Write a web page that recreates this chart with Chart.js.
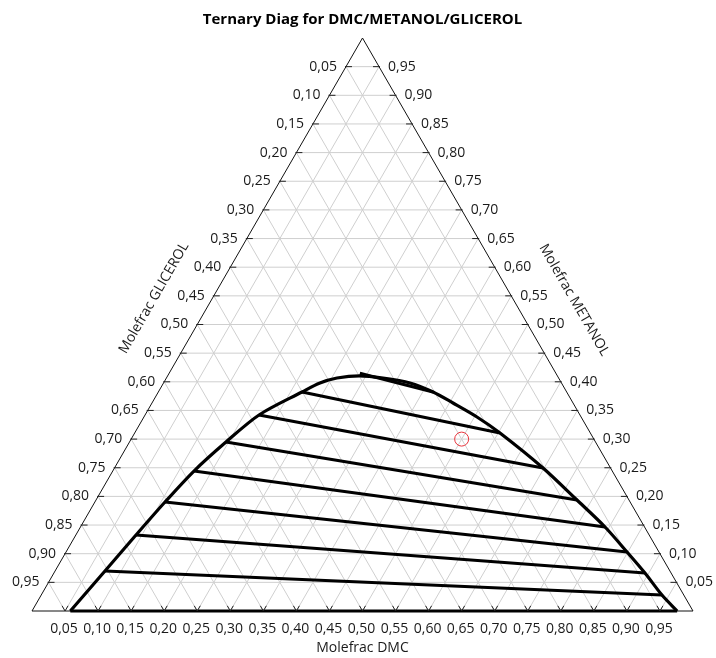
<!DOCTYPE html>
<html>
<head>
<meta charset="utf-8">
<script src="https://cdn.jsdelivr.net/npm/chart.js@4.4.1/dist/chart.umd.min.js"></script>
<style>
  html, body { margin: 0; padding: 0; background: #ffffff; }
  #wrap { width: 716px; height: 658px; position: relative; }
</style>
</head>
<body>
<div id="wrap"><canvas id="chart"></canvas></div>
<script>
// Ternary diagram: apex = METANOL, bottom-left = GLICEROL, bottom-right = DMC.
// Compositions are stored as mole fractions of DMC and METANOL; GLICEROL = 1 - DMC - METANOL.

const TITLE = 'Ternary Diag for DMC/METANOL/GLICEROL';
const AXIS_BOTTOM = 'Molefrac DMC';
const AXIS_LEFT = 'Molefrac GLICEROL';
const AXIS_RIGHT = 'Molefrac METANOL';

const tickFractions = [0.05, 0.10, 0.15, 0.20, 0.25, 0.30, 0.35, 0.40, 0.45, 0.50,
                       0.55, 0.60, 0.65, 0.70, 0.75, 0.80, 0.85, 0.90, 0.95];
const tickLabels = ['0,05', '0,10', '0,15', '0,20', '0,25', '0,30', '0,35', '0,40', '0,45', '0,50',
                    '0,55', '0,60', '0,65', '0,70', '0,75', '0,80', '0,85', '0,90', '0,95'];

// Binodal curve, from the glycerol-rich foot over the top to the DMC-rich foot
const binodalDMC     = [0.058, 0.0755, 0.091, 0.1061, 0.1229, 0.146, 0.1724, 0.2174, 0.2367, 0.2581,
                        0.2903, 0.3277, 0.3729, 0.4156, 0.4554, 0.5039, 0.5527, 0.6483, 0.7276, 0.7936,
                        0.8487, 0.8942, 0.9391, 0.976];
const binodalMetanol = [0.0, 0.0698, 0.1326, 0.1902, 0.2443, 0.2949, 0.3421, 0.3822, 0.3979, 0.4066,
                        0.4105, 0.4066, 0.3979, 0.3822, 0.3630, 0.3386, 0.3106, 0.2496, 0.1937, 0.1466,
                        0.1030, 0.0663, 0.0279, 0.0];

// Tie lines: glycerol-rich end and DMC-rich end
const tieLeftDMC      = [0.058, 0.0755, 0.091, 0.1061, 0.1229, 0.146, 0.1724, 0.2174, 0.2885];
const tieLeftMetanol  = [0.0, 0.0698, 0.1326, 0.1902, 0.2443, 0.2949, 0.3421, 0.3822, 0.4150];
const tieRightDMC     = [0.976, 0.9391, 0.8942, 0.8487, 0.7936, 0.7276, 0.6483, 0.5527, 0.4156];
const tieRightMetanol = [0.0, 0.0279, 0.0663, 0.1030, 0.1466, 0.1937, 0.2496, 0.3106, 0.3822];

// Feed composition
const feedDMC = [0.50];
const feedMetanol = [0.30];

const SQ = Math.sqrt(3) / 2;
const toXY = (d, m) => ({ x: d + m / 2, y: m * SQ });

const FONT = '"Open Sans", "Noto Sans", sans-serif';
const GRID_COLOR = '#cfcfcf';

const datasets = [];

// Light grid every 0.05 in all three directions
tickFractions.forEach(f => {
  const lines = [
    [toXY(0, f), toXY(1 - f, f)],       // constant METANOL
    [toXY(f, 0), toXY(f, 1 - f)],       // constant DMC
    [toXY(1 - f, 0), toXY(0, 1 - f)]    // constant GLICEROL
  ];
  lines.forEach(pts => datasets.push({
    type: 'line', data: pts, borderColor: GRID_COLOR, borderWidth: 1,
    pointRadius: 0, fill: false, order: 10, clip: false
  }));
});

// Triangle outline
datasets.push({
  type: 'line', data: [toXY(0, 0), toXY(1, 0), toXY(0, 1), toXY(0, 0)],
  borderColor: '#111111', borderWidth: 1, pointRadius: 0, fill: false, order: 5, clip: false
});

// Binodal curve
datasets.push({
  type: 'line', data: binodalDMC.map((d, i) => toXY(d, binodalMetanol[i])),
  borderColor: '#000000', borderWidth: 3.2, pointRadius: 0, fill: false,
  tension: 0.3, order: 2, clip: false
});

// Tie lines
tieLeftDMC.forEach((d, i) => datasets.push({
  type: 'line',
  data: [toXY(d, tieLeftMetanol[i]), toXY(tieRightDMC[i], tieRightMetanol[i])],
  borderColor: '#000000', borderWidth: 3.2,
  pointRadius: 0, fill: false, order: 2, clip: false
}));

// Feed point
datasets.push({
  type: 'scatter', data: feedDMC.map((d, i) => toXY(d, feedMetanol[i])),
  pointRadius: 7, pointHoverRadius: 7, pointStyle: 'circle',
  borderColor: '#e8343c', backgroundColor: 'rgba(0,0,0,0)', borderWidth: 1, order: 0, clip: false
});

// Ticks, tick labels, axis titles and chart title
const ternaryText = {
  id: 'ternaryText',
  afterDatasetsDraw(chart) {
    const { ctx } = chart;
    const xs = chart.scales.x, ys = chart.scales.y;
    const px = (d, m) => [xs.getPixelForValue(d + m / 2), ys.getPixelForValue(m * SQ)];
    ctx.save();
    ctx.strokeStyle = '#222222';
    ctx.lineWidth = 1;
    tickFractions.forEach(f => {
      const [bx, by] = px(f, 0);
      ctx.beginPath();
      ctx.moveTo(bx - 3, by - 5.2); ctx.lineTo(bx, by); ctx.lineTo(bx + 3, by - 5.2);
      ctx.stroke();
      const [lx, ly] = px(0, 1 - f);
      ctx.beginPath(); ctx.moveTo(lx - 1, ly); ctx.lineTo(lx + 6, ly); ctx.stroke();
      const [rx, ry] = px(1 - f, f);
      ctx.beginPath(); ctx.moveTo(rx + 1, ry); ctx.lineTo(rx - 6, ry); ctx.stroke();
    });

    ctx.fillStyle = '#1a1a1a';
    ctx.font = '14px ' + FONT;
    ctx.textBaseline = 'middle';
    tickFractions.forEach((f, i) => {
      const lab = tickLabels[i];
      const [bx, by] = px(f, 0);
      ctx.textAlign = 'center';
      ctx.fillText(lab, bx - 1, by + 18);
      const [lx, ly] = px(0, 1 - f);
      ctx.textAlign = 'right';
      ctx.fillText(lab, lx - 9, ly);
      const [rx, ry] = px(1 - f, f);
      ctx.textAlign = 'left';
      ctx.fillText(lab, rx + 9, ry);
    });

    ctx.textAlign = 'center';
    ctx.font = '14px ' + FONT;
    const [cx] = px(0.5, 0);
    ctx.fillText(AXIS_BOTTOM, cx, ys.getPixelForValue(0) + 37);

    ctx.save();
    ctx.translate(154, 298);
    ctx.rotate(-Math.PI / 3);
    ctx.fillText(AXIS_LEFT, 0, 0);
    ctx.restore();

    ctx.save();
    ctx.translate(574, 300);
    ctx.rotate(Math.PI / 3);
    ctx.fillText(AXIS_RIGHT, 0, 0);
    ctx.restore();

    ctx.fillStyle = '#000000';
    ctx.font = 'bold 15px ' + FONT;
    ctx.fillText(TITLE, cx, 20);
    ctx.restore();
  }
};

new Chart(document.getElementById('chart'), {
  type: 'scatter',
  data: { datasets },
  options: {
    responsive: true,
    maintainAspectRatio: false,
    devicePixelRatio: 1,
    animation: false,
    layout: { padding: { left: 32, right: 23, top: 38, bottom: 47 } },
    scales: {
      x: { type: 'linear', min: 0, max: 1, display: false },
      y: { type: 'linear', min: 0, max: SQ, display: false }
    },
    plugins: {
      legend: { display: false },
      tooltip: { enabled: false },
      title: { display: false }
    },
    events: []
  },
  plugins: [ternaryText]
});
</script>
</body>
</html>
